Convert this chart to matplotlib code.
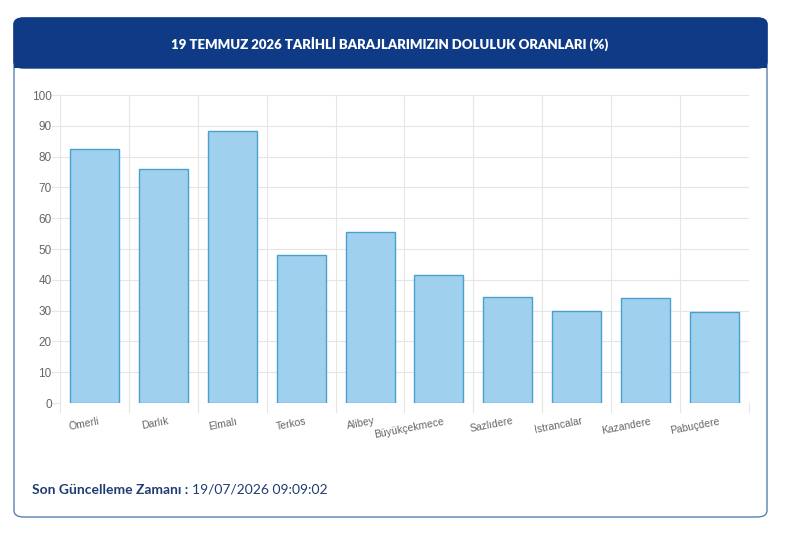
import matplotlib
matplotlib.use("Agg")
import matplotlib.pyplot as plt
from matplotlib.patches import FancyBboxPatch

# dam names and fill ratios (%)
dams = ["Ömerli", "Darlık", "Elmalı", "Terkos", "Alibey", "Büyükçekmece",
        "Sazlıdere", "Istrancalar", "Kazandere", "Pabuçdere"]
ratios = [82.5, 76.0, 88.2, 48.1, 55.6, 41.5, 34.5, 29.9, 34.2, 29.6]
yticks = [0, 10, 20, 30, 40, 50, 60, 70, 80, 90, 100]

W, H = 800, 534
fig = plt.figure(figsize=(W / 100, H / 100), dpi=100)
fig.patch.set_facecolor("white")

# card frame
card = FancyBboxPatch((14 / W, 1 - 517 / H), 753 / W, 499 / H,
                      boxstyle="round,pad=0,rounding_size=0.012",
                      transform=fig.transFigure, facecolor="white",
                      edgecolor="#5b7fb5", linewidth=1.0, zorder=-2)
fig.patches.append(card)
header = FancyBboxPatch((14 / W, 1 - 68 / H), 753 / W, 50 / H,
                        boxstyle="round,pad=0,rounding_size=0.012",
                        transform=fig.transFigure, facecolor="#0f3a85",
                        edgecolor="#0f3a85", linewidth=1.0, zorder=-1)
fig.patches.append(header)
# square off bottom corners of header
fig.patches.append(plt.Rectangle((14 / W, 1 - 68 / H), 753 / W, 20 / H,
                                 transform=fig.transFigure, facecolor="#0f3a85",
                                 edgecolor="none", zorder=-1))
fig.text(390 / W, 1 - 44 / H, "19 TEMMUZ 2026 TARİHLİ BARAJLARIMIZIN DOLULUK ORANLARI (%)",
         color="white", fontsize=9.5, fontweight="heavy", family="Lato",
         ha="center", va="center", zorder=2)

ax = fig.add_axes([60 / W, 1 - 403 / H, 689 / W, 308 / H])
ax.set_zorder(5)
ax.set_facecolor("none")
x = list(range(len(dams)))
ax.bar(x, ratios, width=0.71, color="#9fd1ee", edgecolor="#4a9fd1",
       linewidth=1.0, zorder=3)

ax.set_xlim(-0.5, len(dams) - 0.5)
ax.set_ylim(0, 100)
ax.set_yticks(yticks)
ax.set_yticklabels([str(v) for v in yticks], family="Liberation Sans",
                   fontsize=8.5)
ax.set_xticks(x)
ax.set_xticklabels([])

# slanted category labels, right end just past the bar centre
for i, name in enumerate(dams):
    ax.annotate(name, xy=(i, 0), xycoords=("data", "data"),
                xytext=(3, -9.5), textcoords="offset points",
                rotation=11, rotation_mode="anchor", ha="right", va="top",
                family="Liberation Sans", fontsize=7.5, color="#666666",
                annotation_clip=False)

# grid: horizontal at ticks, vertical at category boundaries
for v in yticks:
    ax.axhline(v, color="#e6e6e6", linewidth=0.8, zorder=1)
for b in range(len(dams) + 1):
    ax.axvline(b - 0.5, color="#e6e6e6", linewidth=0.8, zorder=1)
    ax.plot([b - 0.5, b - 0.5], [0, -3], color="#e6e6e6", linewidth=0.8,
            clip_on=False, zorder=1)
for v in yticks:
    ax.plot([-0.5, -0.62], [v, v], color="#e6e6e6", linewidth=0.8,
            clip_on=False, zorder=1)

for s in ax.spines.values():
    s.set_visible(False)
ax.tick_params(axis="both", length=0, colors="#666666")
ax.tick_params(axis="y", pad=6)

fig.text(32 / W, 1 - 490 / H, "Son Güncelleme Zamanı :", color="#1f3d73",
         fontsize=10, fontweight="bold", family="Lato", ha="left", va="center")
fig.text(192 / W, 1 - 490 / H, "19/07/2026 09:09:02", color="#1f3d73",
         fontsize=10, family="Lato", ha="left", va="center")

fig.savefig("out.png", dpi=100)
